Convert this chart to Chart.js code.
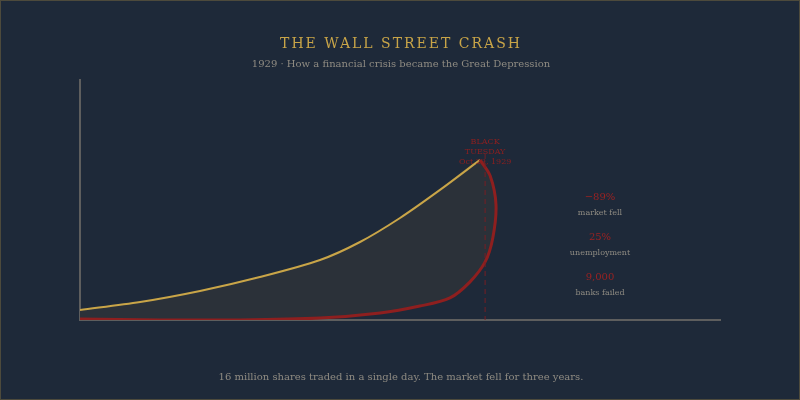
<!DOCTYPE html>
<html>
<head>
<meta charset="utf-8">
<script src="https://cdn.jsdelivr.net/npm/chart.js@4/dist/chart.umd.min.js"></script>
<style>
  html, body { margin: 0; padding: 0; background: #1e2939; }
  #wrap { position: relative; width: 800px; height: 400px; box-sizing: border-box; border: 1px solid #4d4a3c; }
  canvas { display: block; }
</style>
</head>
<body>
<div id="wrap"><canvas id="c" width="798" height="398"></canvas></div>
<script>
// Market index (gold) rising toward Black Tuesday
const riseX = [0, 9.4, 18.75, 28.1, 37.5, 43.75, 50, 56.25, 62.5];
const riseY = [4.2, 7.5, 12.1, 17.9, 25, 32.5, 42.5, 54.2, 66.7];
// Collapse loop (red) from the peak back to the floor
const fallX = [62.5, 64.1, 65, 64.5, 63.3, 60.9, 57.8, 53.1, 46.9, 37.5, 25, 12.5, 0];
const fallY = [66.7, 60, 47.9, 34.2, 24.2, 15.8, 9.2, 5.8, 2.9, 0.8, 0, 0, 0.4];
const crashX = 63.3;
const crashLabel = ['BLACK', 'TUESDAY', 'Oct 29, 1929'];
const statValues = ['\u221289%', '25%', '9,000'];
const statLabels = ['market fell', 'unemployment', 'banks failed'];
const title = 'THE WALL STREET CRASH';
const subtitle = '1929 \u00b7 How a financial crisis became the Great Depression';
const footer = '16 million shares traded in a single day. The market fell for three years.';

const rise = riseX.map((x, i) => ({ x, y: riseY[i] }));
const fall = fallX.map((x, i) => ({ x, y: fallY[i] }));
const loop = rise.concat(fall.slice(1));

const GOLD = '#c9a548';
const RED = '#8e1f1f';
const SERIF = '"DejaVu Serif", serif';

const textPlugin = {
  id: 'texts',
  afterDatasetsDraw(chart) {
    const { ctx, scales: { x, y } } = chart;
    const px = x.getPixelForValue(crashX);
    ctx.save();
    ctx.strokeStyle = 'rgba(120,30,35,0.8)';
    ctx.lineWidth = 1.2;
    ctx.setLineDash([5, 4]);
    ctx.beginPath();
    ctx.moveTo(px, y.getPixelForValue(66.7) - 6);
    ctx.lineTo(px, y.getPixelForValue(0));
    ctx.stroke();
    ctx.restore();
  },
  afterDraw(chart) {
    const { ctx, scales: { x, y } } = chart;
    ctx.save();
    ctx.textAlign = 'center';
    ctx.textBaseline = 'middle';
    // title
    ctx.fillStyle = GOLD;
    ctx.font = '14px ' + SERIF;
    ctx.letterSpacing = '2px';
    ctx.fillText(title, 400, 43);
    ctx.letterSpacing = '0px';
    ctx.fillStyle = '#8f8b82';
    ctx.font = '10px ' + SERIF;
    ctx.fillText(subtitle, 400, 63);
    ctx.fillText(footer, 400, 376);
    // crash label
    const px = x.getPixelForValue(crashX);
    ctx.fillStyle = RED;
    ctx.font = '8px ' + SERIF;
    crashLabel.forEach((t, i) => ctx.fillText(t, px, 141 + i * 10));
    // stats
    statValues.forEach((v, i) => {
      ctx.fillStyle = '#9a2222';
      ctx.font = '10px ' + SERIF;
      ctx.fillText(v, 599, 196 + i * 40);
      ctx.fillStyle = '#8f8b82';
      ctx.font = '8px ' + SERIF;
      ctx.fillText(statLabels[i], 599, 212 + i * 40);
    });
    ctx.restore();
  }
};

new Chart(document.getElementById('c'), {
  type: 'scatter',
  data: {
    datasets: [
      { data: loop, showLine: true, fill: 'shape', backgroundColor: '#2b3139', borderWidth: 0, borderColor: 'rgba(0,0,0,0)', pointRadius: 0, tension: 0.3, order: 3 },
      { data: rise, showLine: true, borderColor: GOLD, borderWidth: 2, pointRadius: 0, tension: 0.3, fill: false, order: 2 },
      { data: fall, showLine: true, borderColor: RED, borderWidth: 3, pointRadius: 0, tension: 0.3, fill: false, order: 1 }
    ]
  },
  options: {
    responsive: false,
    animation: false,
    events: [],
    layout: { padding: { left: 79, right: 79, top: 79, bottom: 79 } },
    plugins: { legend: { display: false }, tooltip: { enabled: false } },
    scales: {
      x: { type: 'linear', min: 0, max: 100, ticks: { display: false }, grid: { display: false, drawTicks: false }, border: { display: true, color: '#5e5e5e', width: 2 } },
      y: { type: 'linear', min: 0, max: 100, ticks: { display: false }, grid: { display: false, drawTicks: false }, border: { display: true, color: '#5e5e5e', width: 2 } }
    }
  },
  plugins: [textPlugin]
});
</script>
</body>
</html>
